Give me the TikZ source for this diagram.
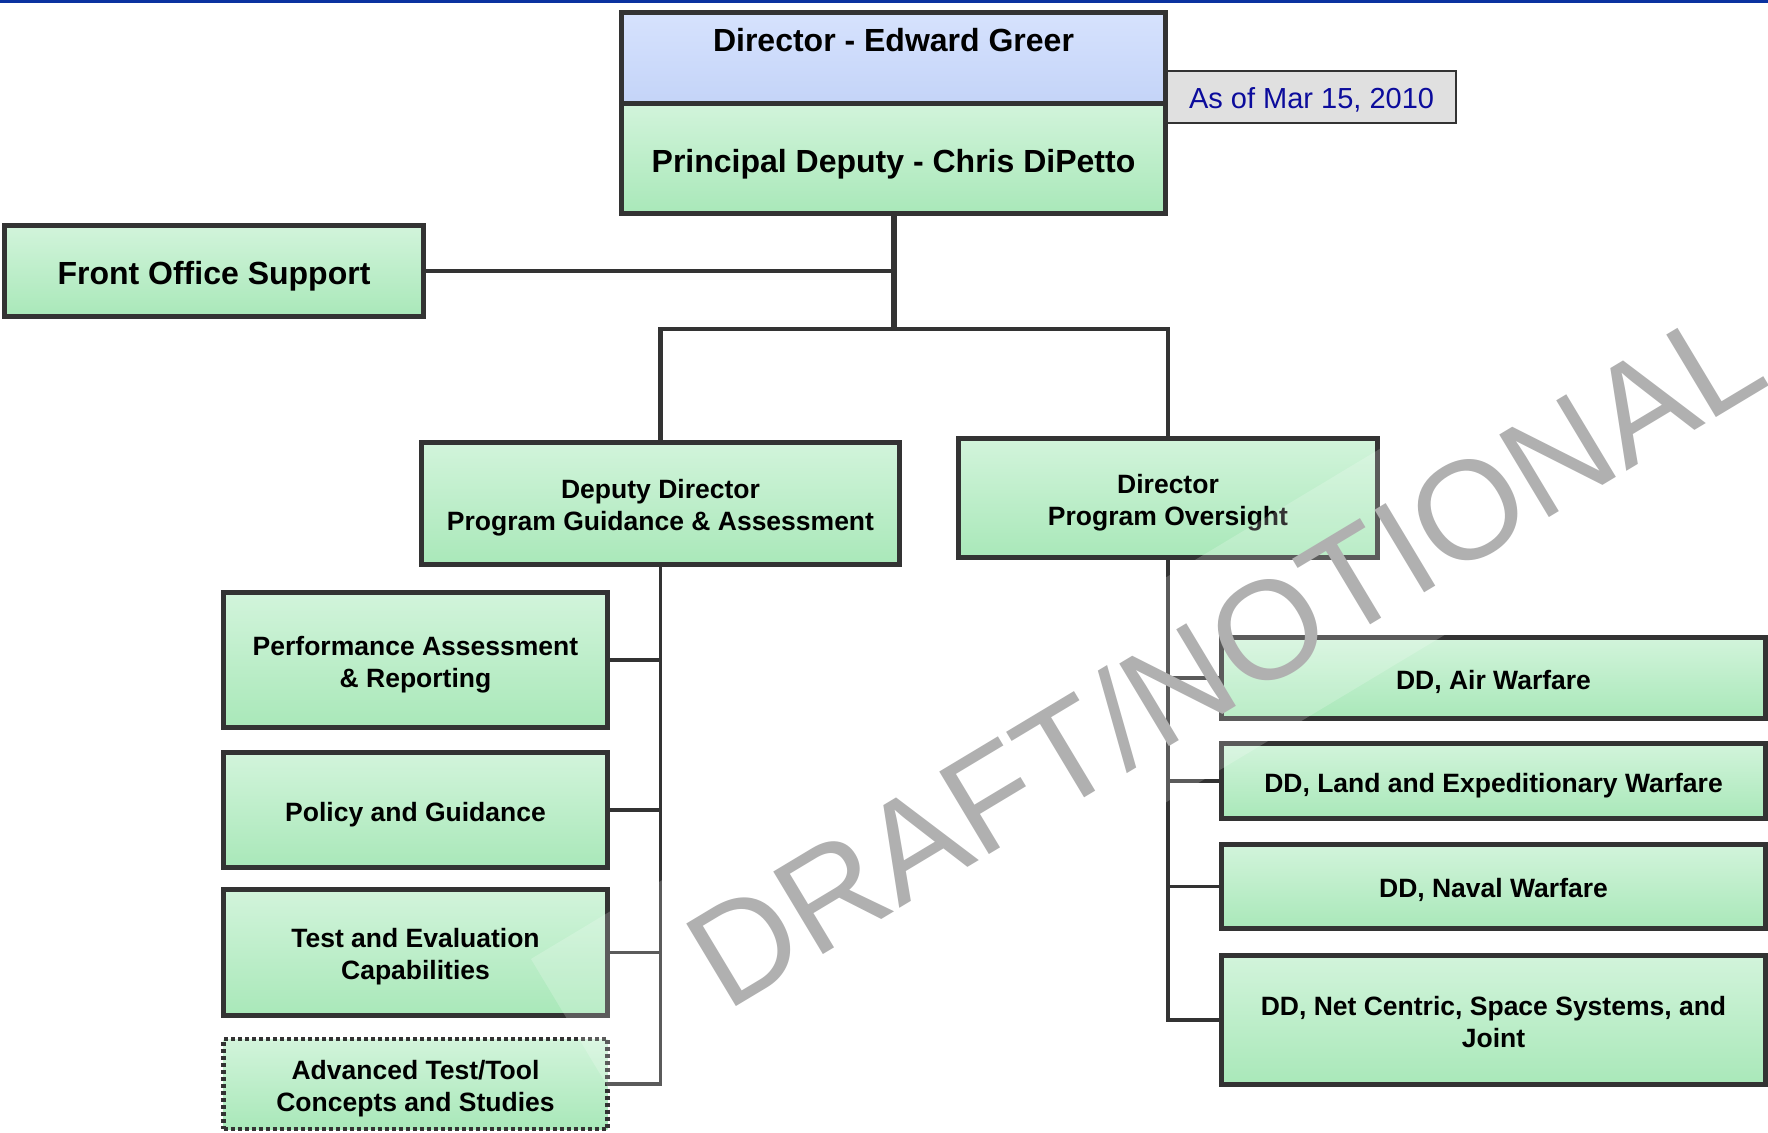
\documentclass[tikz,border=0pt]{standalone}
\usepackage{fontspec}
\setmainfont{Liberation Sans}
\definecolor{boxline}{HTML}{333333}
\definecolor{greentop}{HTML}{D2F4DB}
\definecolor{greenbot}{HTML}{A9E8B9}
\definecolor{bluetop}{HTML}{D6E2FD}
\definecolor{bluebot}{HTML}{C4D4F8}
\definecolor{asoffill}{HTML}{E0E0E0}
\definecolor{navy}{HTML}{0C0C9C}
\definecolor{toprule}{HTML}{0A32A0}

\begin{document}
\begin{tikzpicture}[x=1pt, y=-1pt,
  box/.style={draw=boxline, line width=5pt, top color=greentop, bottom color=greenbot,
    align=center, inner sep=0pt, font=\bfseries\fontsize{26.5}{32}\selectfont},
  bigbox/.style={box, font=\bfseries\fontsize{32}{38}\selectfont, text height=28pt, text depth=1pt},
  oneline/.style={text height=23pt, text depth=1pt},
  twoline/.style={text height=55pt, text depth=1pt},
  leftbox/.style={box, minimum width=384pt},
  rightbox/.style={box, minimum width=544pt},
  link/.style={draw=boxline, line width=3.5pt}]
\useasboundingbox (0,0) rectangle (1768,1132);
\draw[toprule, line width=3pt] (0,1.5) -- (1768,1.5);
%top of the chart
\node[draw=boxline, line width=2pt, fill=asoffill, minimum width=289pt, minimum height=52pt,
  text=navy, font=\fontsize{29}{34}\selectfont, text height=23.8pt, text depth=1pt] (asof) at (1311.5,97) {As of Mar 15, 2010};
\node[bigbox, top color=bluetop, bottom color=bluebot, minimum width=544pt, minimum height=90.5pt,
  text height=23pt, text depth=35.5pt] (dir) at (893.5,57.75) {Director - Edward Greer};
\node[bigbox, minimum width=544pt, minimum height=110.5pt, text height=30pt] (pd) at (893.5,158.25) {Principal Deputy - Chris DiPetto};
\node[bigbox, minimum width=419pt, minimum height=91pt] (fos) at (214,271) {Front Office Support};
%two deputies
\node[box, twoline, minimum width=478pt, minimum height=122pt] (pga) at (660.5,503.5) {Deputy Director\\Program Guidance \& Assessment};
\node[box, twoline, minimum width=419pt, minimum height=119pt] (dpo) at (1168,498) {Director\\Program Oversight};
%guidance and assessment
\node[leftbox, twoline, minimum height=135pt] (perf) at (415.5,660) {Performance Assessment\\\& Reporting};
\node[leftbox, oneline, minimum height=115pt] (policy) at (415.5,810) {Policy and Guidance};
\node[leftbox, twoline, minimum height=126pt] (test) at (415.5,952.5) {Test and Evaluation\\Capabilities};
\node[leftbox, twoline, minimum height=90pt, line width=4.5pt, dash pattern=on 4pt off 3pt] (adv) at (415.5,1084) {Advanced Test/Tool\\Concepts and Studies};
%program oversight
\node[rightbox, oneline, minimum height=81pt] (air) at (1493.5,678) {DD, Air Warfare};
\node[rightbox, oneline, minimum height=75pt] (land) at (1493.5,781) {DD, Land and Expeditionary Warfare};
\node[rightbox, oneline, minimum height=84pt] (naval) at (1493.5,886.5) {DD, Naval Warfare};
\node[rightbox, twoline, minimum height=129pt] (net) at (1493.5,1020) {DD, Net Centric, Space Systems, and\\Joint};
%connectors
\coordinate (split) at (893.5,329);
\draw[link, line width=6pt] (pd.south) -- (split);
\draw[link] (fos.east) -- (fos.east -| pd.south);
\draw[link, line width=4.5pt] (pga.north) |- (split) -| (dpo.north);
\foreach \n in {perf,policy,test,adv}{\draw[link] (pga.south) |- (\n.east);}
\foreach \n in {air,land,naval,net}{\draw[link] (dpo.south) |- (\n.west);}
%watermark
\node[rotate=31, text=black!31, fill=white, fill opacity=0.2, text opacity=1,
  inner xsep=140pt, inner ysep=45pt, font=\fontsize{140}{140}\selectfont] (wm) at (1224,655) {DRAFT/NOTIONAL};
\end{tikzpicture}
\end{document}
